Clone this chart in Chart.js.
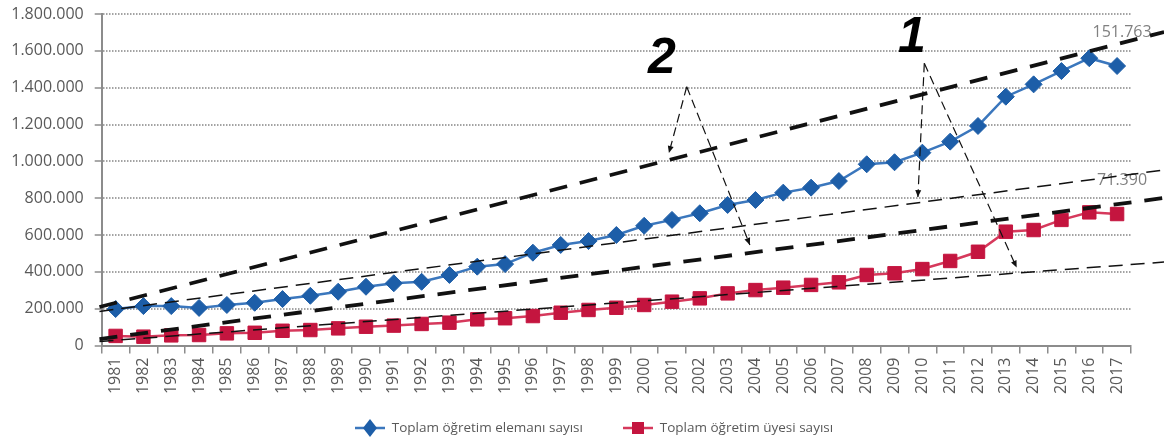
<!DOCTYPE html>
<html>
<head>
<meta charset="utf-8">
<script src="https://cdn.jsdelivr.net/npm/chart.js@4/dist/chart.umd.min.js"></script>
<style>
  html, body { margin: 0; padding: 0; background: #ffffff; }
  #wrap { width: 1164px; height: 443px; }
</style>
</head>
<body>
<div id="wrap"><canvas id="c" width="1164" height="443"></canvas></div>
<script>
// Yıllar
const years = ['1981','1982','1983','1984','1985','1986','1987','1988','1989','1990',
  '1991','1992','1993','1994','1995','1996','1997','1998','1999','2000',
  '2001','2002','2003','2004','2005','2006','2007','2008','2009','2010',
  '2011','2012','2013','2014','2015','2016','2017'];

// Toplam öğretim elemanı sayısı
const elemanSayisi = [19800, 21400, 21400, 20400, 22000, 23200, 25200, 27000, 29200, 31900,
  33800, 34600, 38300, 42800, 44200, 50400, 54600, 56700, 60000, 65000,
  68200, 71800, 76300, 79000, 83000, 85700, 89300, 98400, 99500, 104700,
  110700, 119200, 135100, 141800, 149000, 156000, 151763];

// Toplam öğretim üyesi sayısı
const uyeSayisi = [5200, 4800, 5500, 5700, 6600, 6900, 8000, 8400, 9300, 10200,
  10800, 11700, 12400, 14200, 14800, 16000, 17800, 19300, 20500, 22000,
  23800, 25600, 28300, 30100, 31400, 32900, 34300, 38300, 39200, 41500,
  45900, 50900, 61800, 62700, 68200, 72300, 71390];

// Dikey eksen etiketleri
const yTickLabels = ['0', '200.000', '400.000', '600.000', '800.000',
  '1.000.000', '1.200.000', '1.400.000', '1.600.000', '1.800.000'];

// Eğilim doğruları: [yıl sırası, değer] uç noktaları
const trend2Ust = [{ x: -0.58, y: 20900 }, { x: 37.69, y: 170200 }];
const trend1Ust = [{ x: -0.58, y: 18500 }, { x: 37.69, y: 95300 }];
const trend2Alt = [{ x: -0.58, y: 3500 }, { x: 37.69, y: 80100 }];
const trend1Alt = [{ x: -0.58, y: 2200 }, { x: 37.69, y: 45300 }];

// "1" ve "2" işaretleri ile oklar: [yıl sırası, değer]
const isaret2 = { text: '2', x: 19.64, y: 148000 };
const isaret1 = { text: '1', x: 28.62, y: 159400 };
const oklar2 = { tip: [20.53, 140500], ends: [[19.89, 104500], [22.80, 54600]] };
const oklar1 = { tip: [29.07, 153200], ends: [[28.84, 80600], [32.39, 42300]] };

const BLUE = '#1d5ea8', BLUE_LINE = '#3b77bd';
const RED = '#c4153f', RED_LINE = '#d6395c';
const AXIS = '#8c8c8c', TEXT = '#595959';

function legendIcon(fill, line, shape) {
  const c = document.createElement('canvas');
  c.width = 30; c.height = 20;
  const g = c.getContext('2d');
  g.strokeStyle = line; g.lineWidth = 2.5;
  g.beginPath(); g.moveTo(0, 10); g.lineTo(30, 10); g.stroke();
  g.fillStyle = fill;
  if (shape === 'diamond') {
    g.beginPath(); g.moveTo(15, 1); g.lineTo(22, 10); g.lineTo(15, 19); g.lineTo(8, 10); g.closePath(); g.fill();
  } else {
    g.fillRect(9, 4, 12, 12);
  }
  return c;
}

function fmt(v) {
  return String(v).replace(/\B(?=(\d{3})+(?!\d))/g, '.');
}

function drawArrow(ctx, x1, y1, x2, y2) {
  ctx.save();
  ctx.strokeStyle = '#111'; ctx.fillStyle = '#111';
  ctx.lineWidth = 1.2; ctx.setLineDash([9, 5]);
  ctx.beginPath(); ctx.moveTo(x1, y1); ctx.lineTo(x2, y2); ctx.stroke();
  ctx.setLineDash([]);
  const a = Math.atan2(y2 - y1, x2 - x1);
  const L = 7, W = 3;
  ctx.beginPath();
  ctx.moveTo(x2, y2);
  ctx.lineTo(x2 - L * Math.cos(a) + W * Math.sin(a), y2 - L * Math.sin(a) - W * Math.cos(a));
  ctx.lineTo(x2 - L * Math.cos(a) - W * Math.sin(a), y2 - L * Math.sin(a) + W * Math.cos(a));
  ctx.closePath(); ctx.fill();
  ctx.restore();
}

const LEGEND_PAD = 40, LEGEND_FONT = 13.5;

const annotations = {
  id: 'annotations',
  afterLayout(chart) {
    const lg = chart.legend;
    if (!lg || !lg.lineWidths) return;
    const start = (lg.left + LEGEND_PAD + lg.right - lg.lineWidths[0]) / 2;
    const s = 355 - start;
    lg.left += s; lg.right += s;
    lg.top = 428 - LEGEND_PAD - LEGEND_FONT / 2;
    lg.bottom = chart.height;
    lg.height = lg.bottom - lg.top;
  },
  beforeDatasetsDraw(chart) {
    const ctx = chart.ctx, xs = chart.scales.x, ys = chart.scales.y;
    const last = years.length - 1;
    ctx.save();
    ctx.font = '16px "Open Sans"';
    ctx.fillStyle = '#808080';
    ctx.textAlign = 'center';
    ctx.textBaseline = 'middle';
    [elemanSayisi, uyeSayisi].forEach(arr => {
      const v = arr[last];
      ctx.fillText(fmt(v), xs.getPixelForValue(last) + 5, ys.getPixelForValue(v) - 34);
    });
    ctx.restore();
  },
  afterDatasetsDraw(chart) {
    const ctx = chart.ctx, xt = chart.scales.xt, ys = chart.scales.y;
    [oklar2, oklar1].forEach(o => {
      const tx = xt.getPixelForValue(o.tip[0]), ty = ys.getPixelForValue(o.tip[1]);
      o.ends.forEach(e => drawArrow(ctx, tx, ty, xt.getPixelForValue(e[0]), ys.getPixelForValue(e[1])));
    });
    ctx.save();
    ctx.font = 'italic bold 50px "Liberation Sans"';
    ctx.fillStyle = '#000';
    ctx.textAlign = 'center';
    ctx.textBaseline = 'alphabetic';
    [isaret2, isaret1].forEach(m => ctx.fillText(m.text, xt.getPixelForValue(m.x), ys.getPixelForValue(m.y)));
    ctx.restore();
  }
};

const trendStyle = (data, thick) => ({
  label: '',
  data,
  xAxisID: 'xt',
  yAxisID: 'y',
  borderColor: '#111',
  borderWidth: thick ? 3.8 : 1.5,
  borderDash: thick ? [18, 13] : [14, 8],
  pointRadius: 0,
  fill: false,
  clip: false,
  order: 0
});

new Chart(document.getElementById('c'), {
  type: 'line',
  data: {
    labels: years,
    datasets: [
      {
        label: 'Toplam öğretim elemanı sayısı',
        data: elemanSayisi,
        borderColor: BLUE_LINE,
        borderWidth: 2.5,
        pointStyle: 'rectRot',
        pointRadius: 8.5,
        pointBackgroundColor: BLUE,
        pointBorderColor: BLUE,
        pointBorderWidth: 1,
        order: 1
      },
      {
        label: 'Toplam öğretim üyesi sayısı',
        data: uyeSayisi,
        borderColor: RED_LINE,
        borderWidth: 2.5,
        pointStyle: 'rect',
        pointRadius: 9.5,
        pointBackgroundColor: RED,
        pointBorderColor: RED,
        pointBorderWidth: 1,
        order: 1
      },
      trendStyle(trend2Ust, true),
      trendStyle(trend1Ust, false),
      trendStyle(trend2Alt, true),
      trendStyle(trend1Alt, false)
    ]
  },
  options: {
    responsive: false,
    animation: false,
    events: [],
    devicePixelRatio: 1,
    layout: { padding: { left: 0, right: 33, top: 14, bottom: 0 } },
    plugins: {
      tooltip: { enabled: false },
      legend: {
        position: 'bottom',
        maxHeight: 22,
        labels: {
          usePointStyle: true,
          pointStyleWidth: 30,
          boxHeight: 13,
          padding: LEGEND_PAD,
          color: TEXT,
          font: { family: 'Open Sans', size: LEGEND_FONT },
          generateLabels: () => [
            { text: 'Toplam öğretim elemanı sayısı', pointStyle: legendIcon(BLUE, BLUE_LINE, 'diamond'),
              fillStyle: BLUE, strokeStyle: BLUE, lineWidth: 0, fontColor: TEXT, hidden: false, datasetIndex: 0 },
            { text: 'Toplam öğretim üyesi sayısı', pointStyle: legendIcon(RED, RED_LINE, 'square'),
              fillStyle: RED, strokeStyle: RED, lineWidth: 0, fontColor: TEXT, hidden: false, datasetIndex: 1 }
          ]
        }
      }
    },
    scales: {
      x: {
        type: 'category',
        offset: true,
        grid: { offset: true, drawOnChartArea: false, drawTicks: true, tickLength: 8, tickColor: AXIS, lineWidth: 1.5 },
        border: { display: true, color: AXIS, width: 2 },
        ticks: { autoSkip: false, minRotation: 90, maxRotation: 90, padding: 4, color: TEXT,
                 font: { family: 'Open Sans', size: 16 } },
        afterFit(s) { s.height = 443 - 345.5 - (s.chart.legend ? s.chart.legend.height : 0); }
      },
      xt: { type: 'linear', display: false, min: -0.5, max: 36.5 },
      y: {
        min: 0,
        max: 180000,
        ticks: { stepSize: 20000, padding: 11, color: TEXT, font: { family: 'Open Sans', size: 16 },
                 callback: v => yTickLabels[Math.round(v / 20000)] },
        grid: { color: '#a3a3a3', lineWidth: 2, drawTicks: true, tickLength: 7, tickColor: AXIS, tickWidth: 1.5, tickBorderDash: [] },
        border: { display: true, color: AXIS, width: 2, dash: [1.5, 1.5] },
        afterFit(s) { s.width = 101.7; s.paddingTop = 0; s.paddingBottom = 0; }
      }
    }
  },
  plugins: [annotations]
});
</script>
</body>
</html>
